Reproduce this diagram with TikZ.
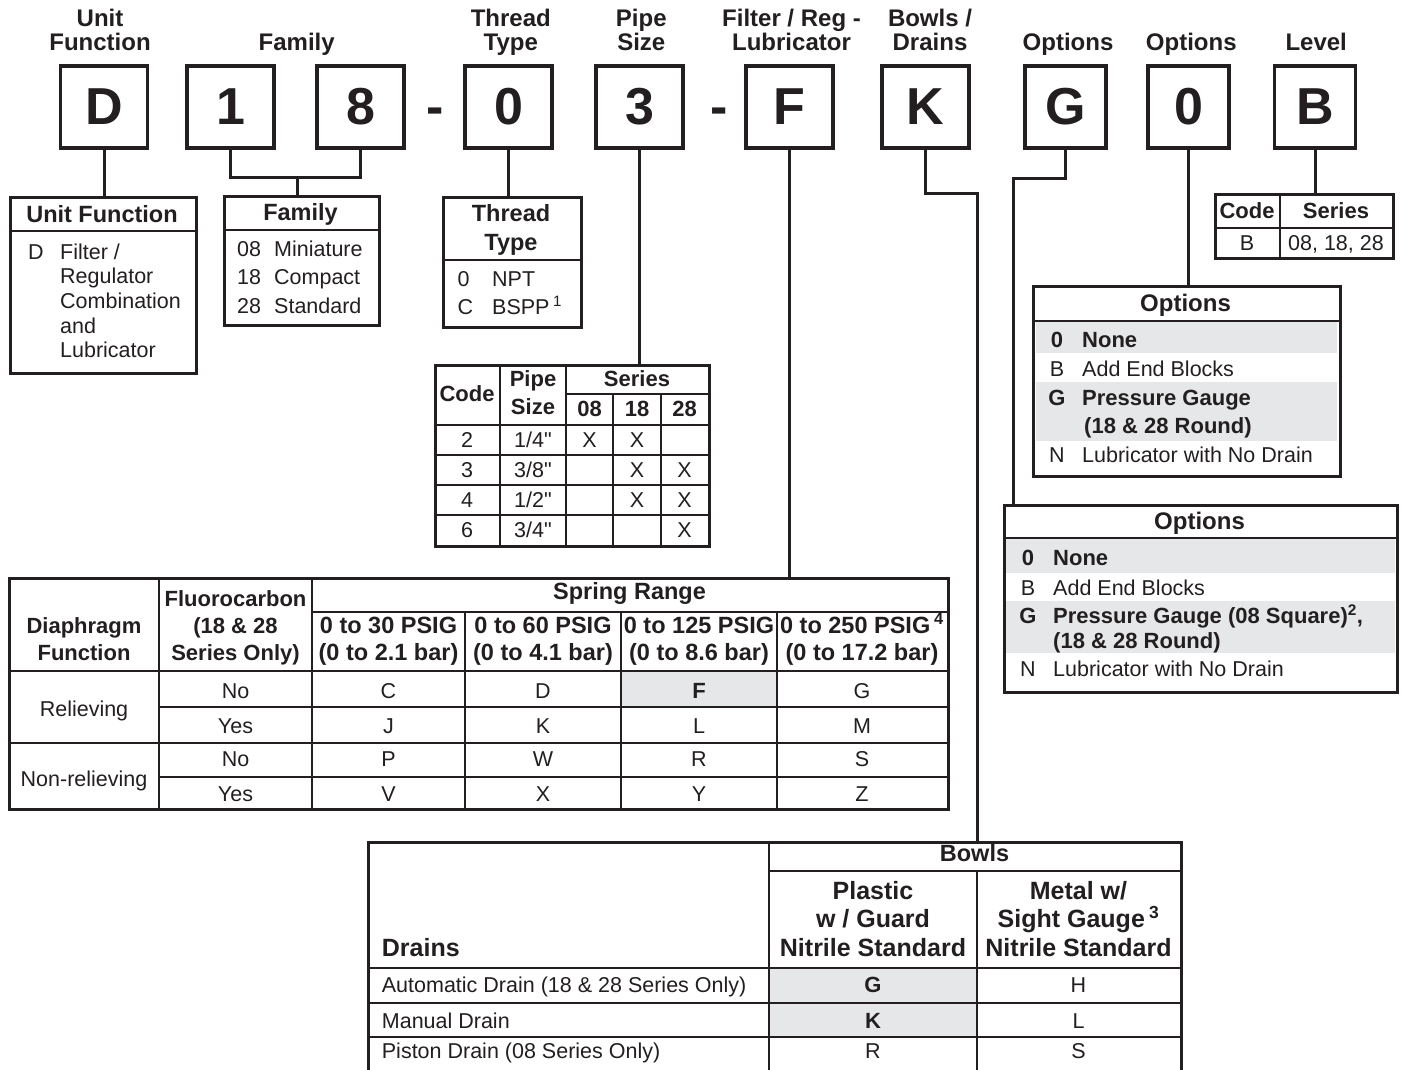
\documentclass[tikz,border=0pt]{standalone}
\usepackage{fontspec}
\setmainfont{Liberation Sans}
\usetikzlibrary{calc}
\definecolor{cellgray}{RGB}{230,231,232}
\definecolor{ink}{RGB}{35,31,32}
\newcommand\fBig{\fontsize{52}{52}\selectfont\bfseries}
\newcommand\fTop{\fontsize{24}{24.3}\selectfont\bfseries}
\newcommand\fHd{\fontsize{23.5}{28.6}\selectfont\bfseries}
\newcommand\fHdP{\fontsize{22}{27.3}\selectfont\bfseries}
\newcommand\fHdS{\fontsize{22}{27.2}\selectfont\bfseries}
\newcommand\fHdT{\fontsize{23.5}{27.4}\selectfont\bfseries}
\newcommand\fBody{\fontsize{21.5}{24.7}\selectfont}
\newcommand\fBodyB{\fontsize{22}{24.7}\selectfont\bfseries}
\newcommand\fBowl{\fontsize{25}{28.8}\selectfont\bfseries}
\newcommand\inch{\textquotedbl}
\tikzset{
  codebox/.style={draw=ink, line width=3.2pt, minimum width=87pt, minimum height=82pt, inner sep=0pt, font=\fBig, text=ink},
  conn/.style={draw=ink, line width=3pt},
  tbl/.style={draw=ink, line width=2.5pt, inner sep=0pt, anchor=north west, minimum width=#1},
  gridline/.style={draw=ink, line width=1.7pt},
  heavyline/.style={draw=ink, line width=2.5pt},
  cellfill/.style={fill=cellgray},
  txt/.style={anchor=base, inner sep=0pt, font=\fBody, text=ink},
  txtl/.style={anchor=base west, inner sep=0pt, font=\fBody, align=left, text=ink},
  hd/.style={anchor=base, inner sep=0pt, font=\fHd, align=center, text=ink},
  tophd/.style={anchor=base, inner sep=0pt, font=\fTop, align=center, text=ink},
}
\begin{document}
\begin{tikzpicture}[x=1pt,y=-1pt]
\fill[white] (0,0) rectangle (1403,1070);
\useasboundingbox (0,0) rectangle (1403,1070);

% ---------- top headers (base = last line) ----------
\node[tophd] (hUF) at (100,51) {Unit\\Function};
\node[tophd] (hFam) at (296.7,51) {Family};
\node[tophd] (hTT) at (510.8,51) {Thread\\Type};
\node[tophd] (hPS) at (641.3,51) {Pipe\\Size};
\node[tophd] (hFR) at (791.5,51) {Filter / Reg -\\Lubricator};
\node[tophd] (hBD) at (930,51) {Bowls /\\Drains};
\node[tophd] (hO1) at (1068,51) {Options};
\node[tophd] (hO2) at (1191.3,51) {Options};
\node[tophd] (hLv) at (1316.2,51) {Level};

% ---------- code boxes ----------
\node[codebox] (D) at (104,107) {D};
\node[codebox] (one) at (230.5,107) {1};
\node[codebox] (eight) at (360.5,107) {8};
\node[anchor=base, inner sep=0pt, font=\fBig, text=ink] (dashA) at (435.5,125) {-};
\node[codebox] (zero) at (508.5,107) {0};
\node[codebox] (three) at (639.5,107) {3};
\node[anchor=base, inner sep=0pt, font=\fBig, text=ink] (dashB) at (719.5,125) {-};
\node[codebox] (F) at (789.5,107) {F};
\node[codebox] (K) at (925.5,107) {K};
\node[codebox, minimum width=81pt] (G) at (1065.5,107) {G};
\node[codebox, minimum width=81pt] (ozero) at (1188.5,107) {0};
\node[codebox, minimum width=81pt] (B) at (1315,107) {B};

% ---------- Unit Function ----------
\node[tbl=186pt, minimum height=176pt] (uf) at (9,196) {};
\draw[heavyline] (9,231) -- (195,231);
\node[hd] (ufT) at (102,222) {Unit Function};
\node[txtl] (ufC) at (28,259) {D};
\node[txtl] (ufX) at (60,357.8) {Filter /\\Regulator\\Combination\\and\\Lubricator};

% ---------- Family ----------
\node[tbl=155pt, minimum height=129pt] (fam) at (223,195) {};
\draw[heavyline] (223,230) -- (378,230);
\node[hd] (famT) at (300.5,220) {Family};
\node[txtl, font=\fontsize{21.5}{28.6}\selectfont] (famC) at (237,313.2) {08\\18\\28};
\node[txtl, font=\fontsize{21.5}{28.6}\selectfont] (famX) at (274,313.2) {Miniature\\Compact\\Standard};

% ---------- Thread Type ----------
\node[tbl=138pt, minimum height=130pt] (tt) at (442,196) {};
\draw[heavyline] (442,260) -- (580,260);
\node[hd] (ttT) at (511,250.3) {Thread\\Type};
\node[txtl, font=\fontsize{21.5}{28}\selectfont] (ttC) at (457.5,314) {0\\C};
\node[txtl, font=\fontsize{21.5}{28}\selectfont] (ttX) at (492,314) {NPT\\BSPP\,\textsuperscript{1}};

% ---------- Pipe Size ----------
\node[tbl=274pt, minimum height=181pt] (pipe) at (434,364) {};
\draw[gridline] (500,364) -- (500,545);
\draw[gridline] (566,364) -- (566,545);
\draw[gridline] (613,394) -- (613,545);
\draw[gridline] (661,394) -- (661,545);
\draw[gridline] (566,394) -- (708,394);
\draw[heavyline] (434,425) -- (708,425);
\draw[gridline] (434,455) -- (708,455);
\draw[gridline] (434,485) -- (708,485);
\draw[gridline] (434,515) -- (708,515);
\node[hd, font=\fHdP] (pCode) at (467,401.7) {Code};
\node[hd, font=\fHdP] (pPipe) at (533,414) {Pipe\\Size};
\node[hd, font=\fHdP] (pSer) at (637,386) {Series};
\node[hd, font=\fHdP] (p08) at (589.5,416) {08};
\node[hd, font=\fHdP] (p18) at (637,416) {18};
\node[hd, font=\fHdP] (p28) at (684.5,416) {28};
\node[txt] (r1a) at (467,447.7) {2};
\node[txt] (r1b) at (533,447.7) {1/4\inch};
\node[txt] (r1c) at (589.5,447.7) {X};
\node[txt] (r1d) at (637,447.7) {X};
\node[txt] (r2a) at (467,477.7) {3};
\node[txt] (r2b) at (533,477.7) {3/8\inch};
\node[txt] (r2d) at (637,477.7) {X};
\node[txt] (r2e) at (684.5,477.7) {X};
\node[txt] (r3a) at (467,507.7) {4};
\node[txt] (r3b) at (533,507.7) {1/2\inch};
\node[txt] (r3d) at (637,507.7) {X};
\node[txt] (r3e) at (684.5,507.7) {X};
\node[txt] (r4a) at (467,537.7) {6};
\node[txt] (r4b) at (533,537.7) {3/4\inch};
\node[txt] (r4e) at (684.5,537.7) {X};

% ---------- Level ----------
\node[tbl=178pt, minimum height=64pt] (lvl) at (1214,193) {};
\draw[gridline] (1280,193) -- (1280,257);
\draw[gridline] (1214,228) -- (1392,228);
\node[hd, font=\fHdP] (lvC) at (1247,218.3) {Code};
\node[hd, font=\fHdP] (lvS) at (1336,218.3) {Series};
\node[txt] (lvB) at (1247,250.5) {B};
\node[txt] (lvX) at (1336,250.5) {08, 18, 28};

% ---------- Options (upper) ----------
\fill[cellfill] (1036,321) rectangle (1337,353);
\fill[cellfill] (1036,382) rectangle (1337,441);
\node[tbl=307pt, minimum height=190pt] (optA) at (1032,285) {};
\draw[heavyline] (1032,321) -- (1339,321);
\node[hd, font=\fontsize{24}{24}\selectfont\bfseries] (oaT) at (1185.5,311.5) {Options};
\node[txt, font=\fBodyB] (oa0) at (1057,347) {0};
\node[txt] (oaB) at (1057,376) {B};
\node[txt, font=\fBodyB] (oaG) at (1057,405) {G};
\node[txt] (oaN) at (1057,462) {N};
\node[txtl, font=\fBodyB] (oa0t) at (1082,347) {None};
\node[txtl] (oaBt) at (1082,376) {Add End Blocks};
\node[txtl, font=\fBodyB] (oaGt) at (1082,405) {Pressure Gauge};
\node[txtl, font=\fBodyB] (oaGu) at (1084,433.5) {(18 \& 28 Round)};
\node[txtl] (oaNt) at (1082,462) {Lubricator with No Drain};

% ---------- Options (lower) ----------
\fill[cellfill] (1005,538) rectangle (1395,573);
\fill[cellfill] (1005,601) rectangle (1395,653);
\node[tbl=393pt, minimum height=187pt] (optB) at (1003,504) {};
\draw[heavyline] (1003,538) -- (1396,538);
\node[hd, font=\fontsize{24}{24}\selectfont\bfseries] (obT) at (1199.5,529.5) {Options};
\node[txt, font=\fBodyB] (ob0) at (1028,565) {0};
\node[txt] (obB) at (1028,595) {B};
\node[txt, font=\fBodyB] (obG) at (1028,623.3) {G};
\node[txt] (obN) at (1028,676.7) {N};
\node[txtl, font=\fBodyB] (ob0t) at (1053,565) {None};
\node[txtl] (obBt) at (1053,595) {Add End Blocks};
\node[txtl, font=\fBodyB] (obGt) at (1053,623.3) {Pressure Gauge (08 Square)\textsuperscript{2},};
\node[txtl, font=\fBodyB] (obGu) at (1053,648.3) {(18 \& 28 Round)};
\node[txtl] (obNt) at (1053,676.7) {Lubricator with No Drain};

% ---------- Spring Range ----------
\fill[cellfill] (621,671) rectangle (777,707);
\node[tbl=939pt, minimum height=231pt] (spring) at (8,577) {};
\draw[gridline] (159,577) -- (159,808);
\draw[gridline] (312,577) -- (312,808);
\draw[gridline] (465,612) -- (465,808);
\draw[gridline] (621,612) -- (621,808);
\draw[gridline] (777,612) -- (777,808);
\draw[gridline] (312,612) -- (947,612);
\draw[heavyline] (8,671) -- (947,671);
\draw[gridline] (159,707) -- (947,707);
\draw[heavyline] (8,743) -- (947,743);
\draw[gridline] (159,777) -- (947,777);
\node[hd, font=\fHdS] (sDia) at (84,660.7) {Diaphragm\\Function};
\node[hd, font=\fHdS] (sFlu) at (235.5,660.7) {Fluorocarbon\\(18 \& 28\\Series Only)};
\node[hd, font=\fHdT] (sRng) at (629.5,599.3) {Spring Range};
\node[hd, font=\fHdT] (sC1) at (388.5,660.7) {0 to 30 PSIG\\(0 to 2.1 bar)};
\node[hd, font=\fHdT] (sC2) at (543,660.7) {0 to 60 PSIG\\(0 to 4.1 bar)};
\node[hd, font=\fHdT] (sC3) at (699,660.7) {0 to 125 PSIG\\(0 to 8.6 bar)};
\node[hd, font=\fHdT] (sC4) at (862,660.7) {0 to 250 PSIG\,\textsuperscript{4}\\(0 to 17.2 bar)};
\node[txt] (sRel) at (84,716.7) {Relieving};
\node[txt] (sNRel) at (84,786.7) {Non-relieving};
\node[txt] (f1) at (235.5,698.3) {No};
\node[txt] (f2) at (235.5,733.3) {Yes};
\node[txt] (f3) at (235.5,766.7) {No};
\node[txt] (f4) at (235.5,801.7) {Yes};
\node[txt] (c11) at (388.5,698.3) {C};
\node[txt] (c12) at (543,698.3) {D};
\node[txt, font=\fBodyB] (c13) at (699,698.3) {F};
\node[txt] (c14) at (862,698.3) {G};
\node[txt] (c21) at (388.5,733.3) {J};
\node[txt] (c22) at (543,733.3) {K};
\node[txt] (c23) at (699,733.3) {L};
\node[txt] (c24) at (862,733.3) {M};
\node[txt] (c31) at (388.5,766.7) {P};
\node[txt] (c32) at (543,766.7) {W};
\node[txt] (c33) at (699,766.7) {R};
\node[txt] (c34) at (862,766.7) {S};
\node[txt] (c41) at (388.5,801.7) {V};
\node[txt] (c42) at (543,801.7) {X};
\node[txt] (c43) at (699,801.7) {Y};
\node[txt] (c44) at (862,801.7) {Z};

% ---------- Bowls / Drains ----------
\fill[cellfill] (769,968) rectangle (977,1037);
\node[tbl=813pt, minimum height=231pt] (bowls) at (367,841) {};
\draw[heavyline] (769,841) -- (769,1072);
\draw[heavyline] (977,871) -- (977,1072);
\draw[heavyline] (769,871) -- (1180,871);
\draw[heavyline] (367,968) -- (1180,968);
\draw[gridline] (367,1003) -- (1180,1003);
\draw[gridline] (367,1037) -- (1180,1037);
\node[hd] (bT) at (974.5,861.7) {Bowls};
\node[hd, font=\fBowl] (bP) at (873,956.7) {Plastic\\w / Guard\\Nitrile Standard};
\node[hd, font=\fBowl] (bM) at (1078.5,956.7) {Metal w/\\Sight Gauge\,\textsuperscript{3}\\Nitrile Standard};
\node[txtl, font=\fBowl] (bD) at (381.7,956.7) {Drains};
\node[txtl] (d1) at (381.7,992.5) {Automatic Drain (18 \& 28 Series Only)};
\node[txtl] (d2) at (381.7,1028) {Manual Drain};
\node[txtl] (d3) at (381.7,1058.5) {Piston Drain (08 Series Only)};
\node[txt, font=\fBodyB] (b11) at (873,992.5) {G};
\node[txt] (b12) at (1078.5,992.5) {H};
\node[txt, font=\fBodyB] (b21) at (873,1028) {K};
\node[txt] (b22) at (1078.5,1028) {L};
\node[txt] (b31) at (873,1058.5) {R};
\node[txt] (b32) at (1078.5,1058.5) {S};

% ---------- connectors ----------
\coordinate (fj) at (297,177);
\coordinate (kj) at (977,193);
\coordinate (gj) at (1013,178);
\draw[conn] (D.south) -- (D.south |- uf.north);
\draw[conn] (one.south) |- (fj) -| (eight.south);
\draw[conn] (fj) -- (fj |- fam.north);
\draw[conn] (zero.south) -- (zero.south |- tt.north);
\draw[conn] (three.south) -- (three.south |- pipe.north);
\draw[conn] (F.south) -- (F.south |- spring.north);
\draw[conn] (K.south) |- (kj) -- (kj |- bowls.north);
\draw[conn] (G.south) |- (gj) -- (gj |- optB.north);
\draw[conn] (ozero.south) -- (ozero.south |- optA.north);
\draw[conn] (B.south) -- (B.south |- lvl.north);
\end{tikzpicture}
\end{document}
